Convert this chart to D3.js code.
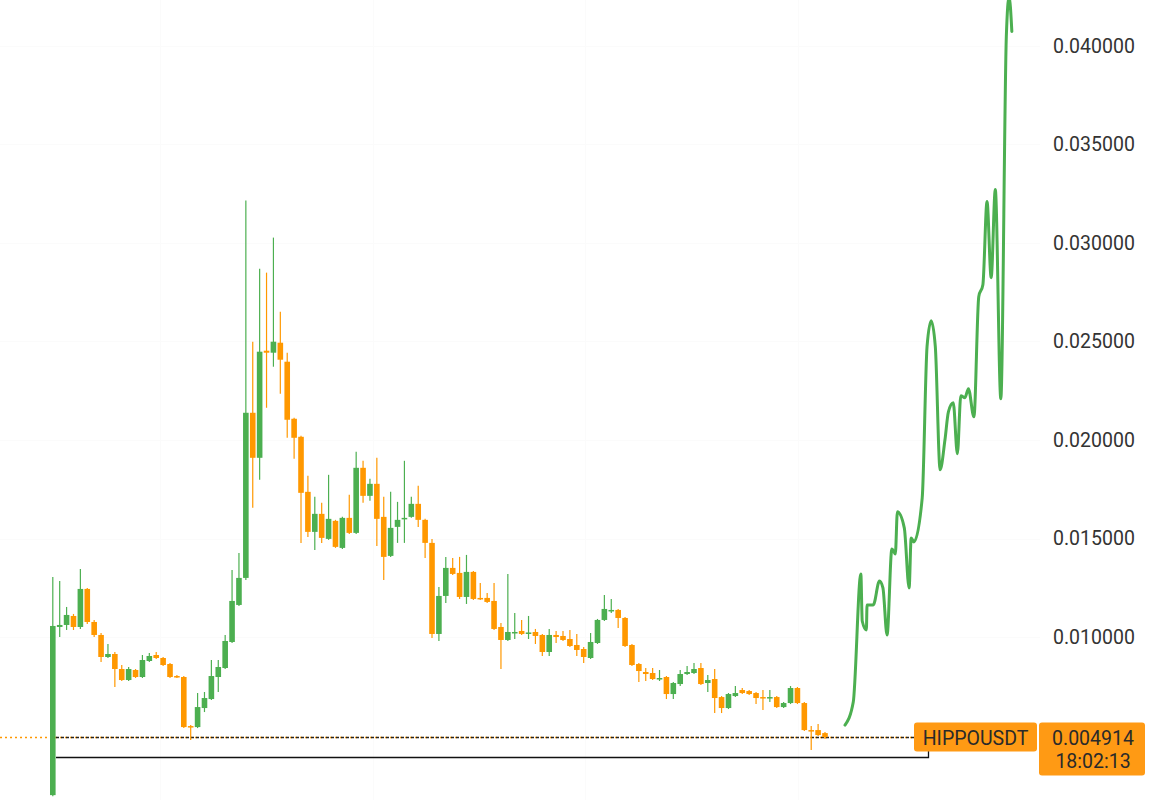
<!DOCTYPE html>
<html>
<head>
<meta charset="utf-8">
<script src="https://cdn.jsdelivr.net/npm/d3@7"></script>
<style>
  html, body { margin: 0; padding: 0; background: #fff; }
  svg { display: block; font-family: Roboto, "Noto Sans", sans-serif; }
</style>
</head>
<body>
<svg id="chart" width="1163" height="800"></svg>
<script>
// candles, oldest first
var candleOpen = [
  0.001973,0.010509,0.010611,0.011068,0.010509,0.012440,0.010763,0.010103,0.008985,0.009137,
  0.008375,0.007816,0.008324,0.007969,0.008782,0.009086,0.008934,0.008629,0.008019,0.007969,
  0.005479,0.005428,0.006394,0.006851,0.007969,0.008426,0.009747,0.011627,0.012999,0.021382,
  0.019096,0.024533,0.024431,0.024939,0.023974,0.021078,0.020163,0.017369,0.015336,0.016251,
  0.014980,0.015895,0.014523,0.016047,0.015285,0.018588,0.017165,0.017775,0.016098,0.014117,
  0.015590,0.015997,0.016098,0.016759,0.015946,0.014777,0.010154,0.012084,0.013507,0.013253,
  0.012033,0.013304,0.011983,0.011983,0.011830,0.010509,0.009849,0.010204,0.010306,0.010179,
  0.010255,0.010103,0.009239,0.010103,0.010052,0.009899,0.009595,0.009391,0.008934,0.009696,
  0.010865,0.011322,0.011373,0.010966,0.009595,0.008629,0.008223,0.008172,0.007867,0.007969,
  0.007105,0.007613,0.008121,0.008172,0.008426,0.007664,0.007867,0.006952,0.006394,0.007003,
  0.007308,0.007257,0.007156,0.006952,0.006902,0.006952,0.006444,0.006648,0.007410,0.006648,
  0.005276,0.005276,0.005123
];
var candleHigh = [
  0.013050,0.012846,0.011525,0.011170,0.013456,0.012491,0.010865,0.010204,0.009645,0.009239,
  0.008578,0.008477,0.008375,0.009086,0.009188,0.009239,0.008985,0.008680,0.008070,0.008019,
  0.005530,0.007156,0.007207,0.008832,0.008832,0.010103,0.013405,0.014269,0.032154,0.024990,
  0.028699,0.028496,0.030274,0.026514,0.024431,0.021128,0.020214,0.018181,0.017114,0.016810,
  0.018232,0.015946,0.016098,0.017216,0.019401,0.018944,0.018029,0.019096,0.017114,0.017369,
  0.016860,0.018944,0.017114,0.017673,0.015997,0.014980,0.012542,0.014066,0.014015,0.014066,
  0.014167,0.013354,0.012745,0.012237,0.012745,0.010712,0.013202,0.011220,0.010865,0.011068,
  0.010408,0.010154,0.010408,0.010306,0.010306,0.010357,0.010154,0.009493,0.010204,0.010916,
  0.012135,0.011932,0.011424,0.011017,0.009645,0.008680,0.008426,0.008426,0.008324,0.008019,
  0.007715,0.008324,0.008528,0.008680,0.008680,0.008070,0.008375,0.007003,0.007156,0.007511,
  0.007410,0.007308,0.007207,0.007308,0.007308,0.007003,0.006698,0.007511,0.007461,0.006698,
  0.005479,0.005581,0.005174
];
var candleLow = [
  0.001922,0.010000,0.010357,0.010357,0.010408,0.010662,0.010000,0.008731,0.008934,0.007461,
  0.007765,0.007765,0.007918,0.007918,0.008731,0.008883,0.008528,0.007918,0.007918,0.005377,
  0.004768,0.005377,0.006190,0.006800,0.007207,0.008375,0.009696,0.011576,0.012897,0.016556,
  0.017978,0.021636,0.023720,0.022348,0.020112,0.019045,0.014777,0.015082,0.014421,0.014777,
  0.014930,0.014523,0.014472,0.015234,0.015234,0.016810,0.016911,0.014625,0.012897,0.014066,
  0.014777,0.014777,0.016047,0.015590,0.014015,0.009950,0.009798,0.011729,0.013151,0.011932,
  0.011678,0.011881,0.011881,0.011729,0.010357,0.008375,0.009798,0.009899,0.010103,0.009899,
  0.009645,0.009036,0.009036,0.009696,0.009798,0.009493,0.009036,0.008680,0.008883,0.009645,
  0.010814,0.011220,0.010458,0.009493,0.008528,0.007715,0.007765,0.007816,0.007765,0.006851,
  0.006851,0.007511,0.008070,0.008121,0.007562,0.007207,0.006140,0.006140,0.006343,0.006952,
  0.007105,0.007054,0.006597,0.006292,0.006698,0.006394,0.006394,0.006597,0.006597,0.005225,
  0.004260,0.004971,0.004818
];
var candleClose = [
  0.010560,0.010611,0.011119,0.010509,0.012440,0.010763,0.010103,0.008985,0.009137,0.008375,
  0.007816,0.008375,0.007969,0.008832,0.009036,0.008934,0.008578,0.007969,0.007969,0.005428,
  0.005428,0.006444,0.006902,0.008019,0.008477,0.009798,0.011830,0.012999,0.021382,0.019096,
  0.024482,0.024431,0.024990,0.024075,0.021027,0.020112,0.017318,0.015336,0.016251,0.015031,
  0.015997,0.014574,0.016047,0.015285,0.018588,0.017165,0.017775,0.015997,0.014066,0.015539,
  0.015946,0.016047,0.016759,0.015946,0.014777,0.010154,0.012084,0.013507,0.013202,0.012033,
  0.013304,0.011932,0.011932,0.011779,0.010408,0.009849,0.010255,0.010255,0.010154,0.010230,
  0.010052,0.009239,0.010103,0.010000,0.009849,0.009544,0.009341,0.008985,0.009747,0.010865,
  0.011424,0.011373,0.010966,0.009544,0.008578,0.008273,0.008121,0.007867,0.007918,0.007105,
  0.007664,0.008121,0.008223,0.008375,0.007613,0.007816,0.006902,0.006394,0.007105,0.007156,
  0.007156,0.007105,0.006902,0.006902,0.006952,0.006444,0.006648,0.007410,0.006648,0.005276,
  0.005225,0.005022,0.004914
];

// hand drawn projection, in candle index units
var projIndex = [114.9,116.1,117.2,117.4,118.0,118.1,119.0,119.9,120.4,121.0,
  121.7,122.2,122.5,123.5,124.2,124.5,124.9,126.1,126.8,127.4,
  128.0,128.7,129.4,129.9,130.6,131.2,131.7,132.3,132.8,133.6,
  134.3,134.9,135.5,136.1,136.7,137.5,138.3,138.7,139.1];
var projPrice = [0.005530,0.006698,0.013202,0.010814,0.010357,0.011627,0.011627,0.012846,0.012491,0.010103,
  0.014472,0.014218,0.016352,0.015539,0.012491,0.015031,0.014828,0.017064,0.024736,0.026057,
  0.024736,0.018486,0.020011,0.021433,0.021890,0.019299,0.022246,0.022145,0.022602,0.021179,
  0.027276,0.027886,0.032103,0.028242,0.032713,0.022094,0.040487,0.042500,0.040741];

var priceTicks = [0.010, 0.015, 0.020, 0.025, 0.030, 0.035, 0.040];
var gridIndex = [15.5, 46.4, 77.2, 108.1];
var symbolName = "HIPPOUSDT";
var lastPrice = 0.004914;
var countdown = "18:02:13";
var baseLevel = 0.00389;

var green = "#4caf50";
var orange = "#ff9800";

function draw() {
    var svg = d3.select("#chart");
    var n = candleOpen.length;

    var x = d3.scaleLinear().domain([0, n - 1]).range([52.8, 825]);
    var y = d3.scaleLinear().domain([0.010, 0.040]).range([637, 46]);

    var candles = [];
    for (var i = 0; i < n; i++) {
        candles.push({ i: i, o: candleOpen[i], h: candleHigh[i], l: candleLow[i], c: candleClose[i] });
    }

    // barely visible grid
    var grid = svg.append("g").attr("class", "grid");
    grid.selectAll(".hgrid")
        .data(priceTicks)
        .enter().append("line")
        .attr("x1", 0).attr("x2", 1040)
        .attr("y1", function (d) { return Math.round(y(d)) + 0.5; })
        .attr("y2", function (d) { return Math.round(y(d)) + 0.5; })
        .style("stroke", "#fbfbfb");
    grid.selectAll(".vgrid")
        .data(gridIndex)
        .enter().append("line")
        .attr("x1", function (d) { return Math.round(x(d)) + 0.5; })
        .attr("x2", function (d) { return Math.round(x(d)) + 0.5; })
        .attr("y1", 0).attr("y2", 800)
        .style("stroke", "#fbfbfb");

    // last price line
    var yLast = Math.round(y(lastPrice)) + 0.5;
    svg.append("line")
        .attr("x1", 0).attr("x2", 914)
        .attr("y1", yLast).attr("y2", yLast)
        .style("stroke", orange)
        .style("stroke-width", 1.3)
        .style("stroke-dasharray", "2,3");
    svg.append("line")
        .attr("x1", 56).attr("x2", 914)
        .attr("y1", yLast).attr("y2", yLast)
        .style("stroke", "#222")
        .style("stroke-width", 1.3)
        .style("stroke-dasharray", "3,2");

    // base bracket
    var yBase = Math.round(y(baseLevel)) + 0.5;
    svg.append("path")
        .attr("d", "M56," + yBase + "H928.5V751")
        .style("fill", "none")
        .style("stroke", "#111")
        .style("stroke-width", 1.3);

    // candles
    var g = svg.append("g").attr("class", "candles");
    var bw = 5.6;
    g.selectAll(".wick")
        .data(candles)
        .enter().append("line")
        .attr("class", "wick")
        .attr("x1", function (d) { return x(d.i); })
        .attr("x2", function (d) { return x(d.i); })
        .attr("y1", function (d) { return y(d.h); })
        .attr("y2", function (d) { return y(d.l); })
        .style("stroke", function (d) { return d.c >= d.o ? green : orange; })
        .style("stroke-width", 1.2);
    g.selectAll(".body")
        .data(candles)
        .enter().append("rect")
        .attr("class", "body")
        .attr("x", function (d) { return x(d.i) - bw / 2; })
        .attr("width", bw)
        .attr("y", function (d) { return y(Math.max(d.o, d.c)); })
        .attr("height", function (d) { return Math.max(1.5, Math.abs(y(d.o) - y(d.c))); })
        .style("fill", function (d) { return d.c >= d.o ? green : orange; });

    // projection line
    var pts = projIndex.map(function (d, k) { return [d, projPrice[k]]; });
    var line = d3.line()
        .x(function (d) { return x(d[0]); })
        .y(function (d) { return y(d[1]); })
        .curve(d3.curveMonotoneX);
    svg.append("path")
        .datum(pts)
        .attr("d", line)
        .style("fill", "none")
        .style("stroke", green)
        .style("stroke-width", 3)
        .style("stroke-linejoin", "round")
        .style("stroke-linecap", "round");

    // price axis
    var axis = d3.axisRight(y)
        .tickValues(priceTicks)
        .tickSize(0)
        .tickPadding(0)
        .tickFormat(d3.format(".6f"));
    var ag = svg.append("g")
        .attr("transform", "translate(1053,0)")
        .call(axis);
    ag.select(".domain").remove();
    ag.selectAll("text")
        .style("font-family", "Roboto, sans-serif")
        .style("font-size", "19.5px")
        .style("fill", "#333");

    // labels
    svg.append("rect")
        .attr("x", 914).attr("y", yLast - 15)
        .attr("width", 123).attr("height", 29)
        .attr("rx", 3)
        .style("fill", "#ff9a14");
    svg.append("text")
        .attr("x", 975.5).attr("y", yLast + 7)
        .attr("text-anchor", "middle")
        .style("font-size", "19.5px")
        .style("fill", "#2a2a2a")
        .text(symbolName);

    svg.append("rect")
        .attr("x", 1039).attr("y", yLast - 15)
        .attr("width", 106).attr("height", 53)
        .attr("rx", 3)
        .style("fill", "#ff9a14");
    svg.append("text")
        .attr("x", 1093).attr("y", yLast + 7)
        .attr("text-anchor", "middle")
        .style("font-size", "19.5px")
        .style("fill", "#2a2a2a")
        .text(d3.format(".6f")(lastPrice));
    svg.append("text")
        .attr("x", 1093).attr("y", yLast + 30)
        .attr("text-anchor", "middle")
        .style("font-size", "19.5px")
        .style("fill", "#2a2a2a")
        .text(countdown);
}

draw();
</script>
</body>
</html>
